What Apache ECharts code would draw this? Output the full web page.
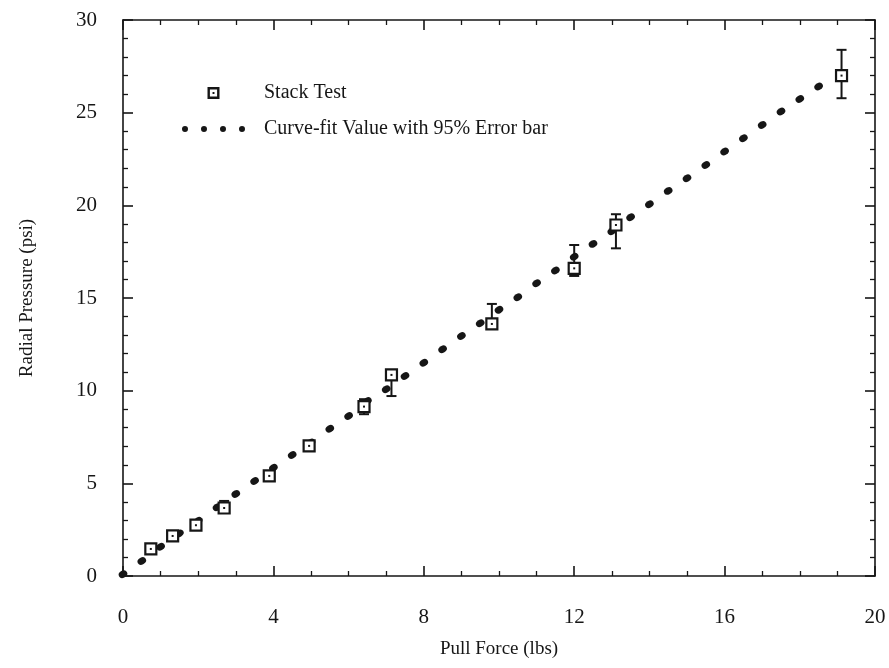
<!DOCTYPE html>
<html>
<head>
<meta charset="utf-8">
<script src="https://cdn.jsdelivr.net/npm/echarts@6/dist/echarts.min.js"></script>
<style>html,body{margin:0;padding:0;background:#fff;}#chart{width:889px;height:668px;}</style>
</head>
<body>
<div id="chart"></div>
<script>
// Curve-fit values (dotted)
const fitX = [0,0.5,1,1.5,2,2.5,3,3.5,4,4.5,5,5.5,6,6.5,7,7.5,8,8.5,9,9.5,10,10.5,11,11.5,12,12.5,13,13.5,14,14.5,15,15.5,16,16.5,17,17.5,18,18.5];
const fitY = [0.1,0.81,1.58,2.3,2.98,3.71,4.43,5.13,5.84,6.53,7.2,7.95,8.63,9.44,10.08,10.79,11.51,12.23,12.95,13.64,14.36,15.04,15.8,16.48,17.23,17.92,18.6,19.36,20.06,20.78,21.46,22.18,22.9,23.62,24.34,25.06,25.74,26.41];
// Stack test points with 95% error bar
const stackX  = [0.74,1.32,1.94,2.69,3.89,4.95,6.41,7.14,9.81,12.0,13.11,19.11];
const stackY  = [1.46,2.16,2.74,3.67,5.4,7.02,9.14,10.85,13.6,16.6,18.94,27.0];
const stackLo = [1.3,2.0,2.6,3.5,5.25,6.85,8.73,9.71,13.45,16.19,17.68,25.78];
const stackHi = [1.6,2.3,2.9,4.05,5.55,7.25,9.54,10.95,14.68,17.86,19.52,28.39];
const xTicks = {min:0, max:20, interval:4};
const yTicks = {min:0, max:30, interval:5};
const seriesNames = ['Stack Test', 'Curve-fit Value with 95% Error bar'];
const xName = 'Pull Force (lbs)';
const yName = 'Radial Pressure (psi)';

const INK = '#161616';
const FONT = 'Liberation Serif';
const boxIcon = 'path://M0 0L10 0L10 10L0 10Z M2 2L2 8L8 8L8 2Z M4.2 4.2L5.8 4.2L5.8 5.8L4.2 5.8Z';
const dotsIcon = 'path://M0 3a3 3 0 1 0 6 0a3 3 0 1 0 -6 0Z M19 3a3 3 0 1 0 6 0a3 3 0 1 0 -6 0Z M38 3a3 3 0 1 0 6 0a3 3 0 1 0 -6 0Z M57 3a3 3 0 1 0 6 0a3 3 0 1 0 -6 0Z';

function axisCommon(showLabel, ext) {
  return Object.assign({
    type: 'value',
    axisLine: {show: true, onZero: false, lineStyle: {color: INK, width: 1.6}},
    axisTick: {show: true, inside: true, length: 10, lineStyle: {color: INK, width: 1.6}},
    splitLine: {show: false},
    axisLabel: {show: showLabel, color: INK, fontFamily: FONT, fontSize: 21}
  }, ext);
}
const minorX = {show: true, splitNumber: 4, length: 5, lineStyle: {color: INK, width: 1.3}};
const minorY = {show: true, splitNumber: 5, length: 5, lineStyle: {color: INK, width: 1.3}};

const chart = echarts.init(document.getElementById('chart'), null, {renderer: 'canvas'});
chart.setOption({
  animation: false,
  backgroundColor: '#fff',
  grid: {left: 123, right: 14, top: 20, bottom: 92, containLabel: false},
  legend: {
    orient: 'vertical',
    left: 177,
    top: 78,
    itemWidth: 63,
    itemHeight: 12,
    itemGap: 16,
    textStyle: {color: INK, fontFamily: FONT, fontSize: 20, padding: [0, 0, 0, 14]},
    data: [
      {name: seriesNames[0], icon: boxIcon, itemStyle: {color: INK, opacity: 1}},
      {name: seriesNames[1], icon: dotsIcon, itemStyle: {color: INK, opacity: 1}}
    ]
  },
  xAxis: [
    axisCommon(true, Object.assign({position: 'bottom', minorTick: minorX,
      name: xName, nameLocation: 'middle', nameGap: 64,
      nameTextStyle: {color: INK, fontFamily: FONT, fontSize: 19},
      axisLabel: {show: true, color: INK, fontFamily: FONT, fontSize: 21, margin: 31}}, xTicks)),
    axisCommon(false, Object.assign({position: 'top', minorTick: minorX}, xTicks))
  ],
  yAxis: [
    axisCommon(true, Object.assign({position: 'left', minorTick: minorY,
      name: yName, nameLocation: 'middle', nameGap: 86,
      nameTextStyle: {color: INK, fontFamily: FONT, fontSize: 19},
      axisLabel: {show: true, color: INK, fontFamily: FONT, fontSize: 21, margin: 26}}, yTicks)),
    axisCommon(false, Object.assign({position: 'right', minorTick: minorY}, yTicks))
  ],
  series: [
    {
      name: seriesNames[1],
      type: 'scatter',
      xAxisIndex: 0, yAxisIndex: 0,
      symbol: 'circle',
      symbolSize: [9, 7],
      symbolRotate: 30,
      itemStyle: {color: INK, opacity: 1},
      data: fitX.map((x, i) => [x, fitY[i]]),
      z: 2
    },
    {
      name: seriesNames[0],
      type: 'custom',
      xAxisIndex: 0, yAxisIndex: 0,
      itemStyle: {color: INK, opacity: 1},
      encode: {x: 0, y: 1},
      data: stackX.map((x, i) => [x, stackY[i], stackLo[i], stackHi[i]]),
      renderItem: function (params, api) {
        const x = api.value(0), y = api.value(1), lo = api.value(2), hi = api.value(3);
        const c = api.coord([x, y]);
        const pl = api.coord([x, lo]);
        const ph = api.coord([x, hi]);
        const hw = 5, s = 11;
        const ls = {stroke: INK, lineWidth: 2};
        return {
          type: 'group',
          children: [
            {type: 'line', shape: {x1: c[0], y1: pl[1], x2: c[0], y2: ph[1]}, style: ls},
            {type: 'line', shape: {x1: c[0] - hw, y1: pl[1], x2: c[0] + hw, y2: pl[1]}, style: ls},
            {type: 'line', shape: {x1: c[0] - hw, y1: ph[1], x2: c[0] + hw, y2: ph[1]}, style: ls},
            {type: 'rect', shape: {x: c[0] - s / 2, y: c[1] - s / 2, width: s, height: s}, style: {fill: '#fff', stroke: INK, lineWidth: 2.2}},
            {type: 'rect', shape: {x: c[0] - 1, y: c[1] - 1, width: 2, height: 2}, style: {fill: INK}}
          ]
        };
      },
      z: 3
    }
  ]
});
</script>
</body>
</html>
